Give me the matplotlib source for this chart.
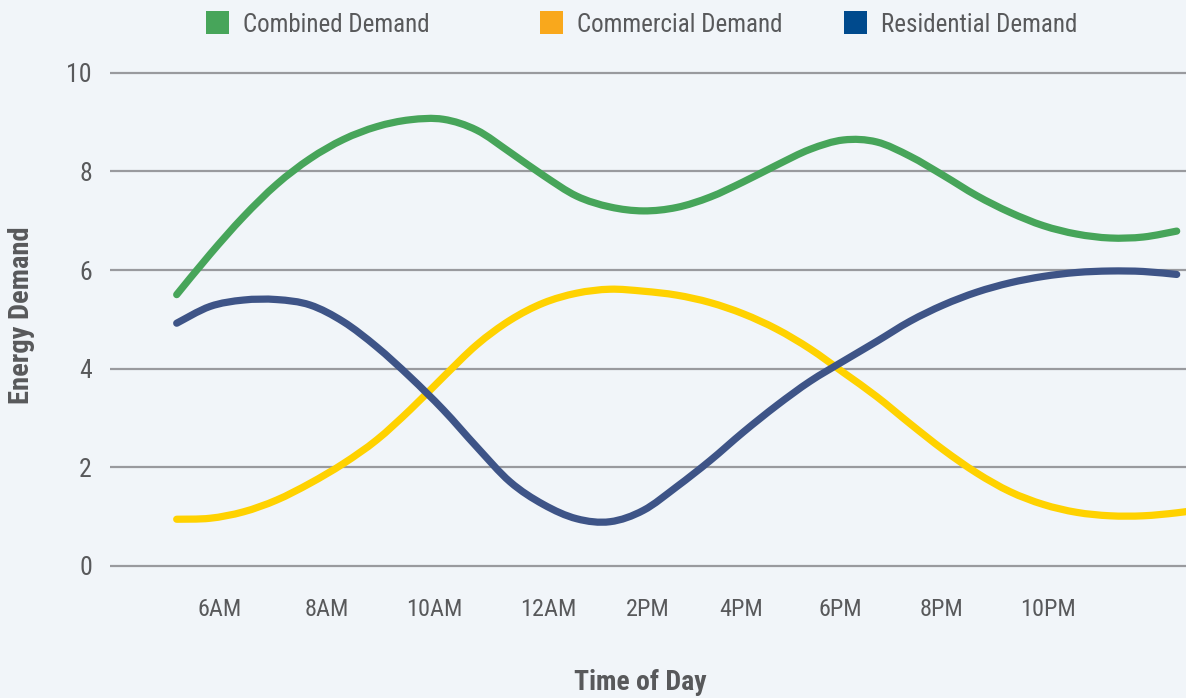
import numpy as np
import matplotlib
matplotlib.use("Agg")
import matplotlib.pyplot as plt
from matplotlib import font_manager
from matplotlib.patches import Rectangle, PathPatch
from matplotlib.path import Path

# pick a narrow sans if there is one
names = {f.name for f in font_manager.fontManager.ttflist}
font = "DejaVu Sans"
for cand in ["Roboto Condensed", "Liberation Sans Narrow", "Roboto"]:
    if cand in names:
        font = cand
        break
plt.rcParams['font.family'] = [font, 'DejaVu Sans']

# data: time in hours, one sample every 40 minutes
time_h = 5 + np.arange(31) * 2 / 3
time_ext = 5 + np.arange(32) * 2 / 3

combined = [5.50, 6.32, 7.08, 7.74, 8.26, 8.65, 8.91, 9.05, 9.06, 8.84,
            8.39, 7.92, 7.50, 7.28, 7.20, 7.27, 7.48, 7.79, 8.13, 8.45,
            8.64, 8.60, 8.31, 7.92, 7.51, 7.17, 6.90, 6.73, 6.65, 6.67, 6.79]
commercial = [0.94, 0.96, 1.09, 1.33, 1.67, 2.07, 2.55, 3.16, 3.83, 4.48,
              4.98, 5.33, 5.53, 5.61, 5.57, 5.49, 5.34, 5.11, 4.80, 4.40,
              3.92, 3.43, 2.88, 2.35, 1.88, 1.50, 1.24, 1.08, 1.01, 1.01,
              1.07, 1.16]
residential = [4.92, 5.26, 5.39, 5.40, 5.29, 4.95, 4.44, 3.83, 3.16, 2.41,
               1.70, 1.24, 0.95, 0.89, 1.12, 1.60, 2.13, 2.71, 3.25, 3.74,
               4.15, 4.55, 4.96, 5.29, 5.55, 5.74, 5.87, 5.95, 5.98, 5.97, 5.91]

tick_labels = ["6AM", "8AM", "10AM", "12AM", "2PM", "4PM", "6PM", "8PM", "10PM"]
tick_pos = [5.85, 8.0, 10.15, 12.43, 14.43, 16.29, 18.27, 20.29, 22.43]
yticks = [0, 2, 4, 6, 8, 10]

legend_names = ["Combined Demand", "Commercial Demand", "Residential Demand"]
legend_colors = ["#47a55a", "#f9a81c", "#004a8d"]

bg = "#f1f5f9"
txt = "#58595b"


def smooth_path(x, y):
    # catmull-rom through the points, drawn as cubic bezier segments
    p = np.column_stack([x, y])
    p = np.vstack([p[0], p, p[-1]])
    verts = [p[1]]
    codes = [Path.MOVETO]
    for i in range(1, len(p) - 2):
        c1 = p[i] + (p[i + 1] - p[i - 1]) / 6
        c2 = p[i + 1] - (p[i + 2] - p[i]) / 6
        verts += [c1, c2, p[i + 1]]
        codes += [Path.CURVE4] * 3
    return Path(verts, codes)


fig = plt.figure(figsize=(11.86, 6.98), dpi=100, facecolor=bg)
ax = fig.add_axes([110 / 1186, 0.1686, 1 - 110 / 1186, 0.748])
ax.set_facecolor(bg)

for y in yticks:
    ax.axhline(y, color="#999a9e", lw=1.6, zorder=1)

for xs, ys, c, z in [(time_h, combined, "#47a55a", 3),
                     (time_ext, commercial, "#ffd200", 3),
                     (time_h, residential, "#3e5487", 4)]:
    ax.add_patch(PathPatch(smooth_path(xs, ys), facecolor="none", edgecolor=c,
                           lw=5.2, capstyle="round", joinstyle="round", zorder=z))

ax.set_xlim(3.666, 25.186)
ax.set_ylim(-0.3, 10.3)
ax.set_yticks(yticks)
ax.set_yticklabels([str(v) for v in yticks])
ax.set_xticks(tick_pos)
ax.set_xticklabels(tick_labels)
ax.tick_params(axis="both", length=0, labelsize=17.5, colors=txt)
ax.tick_params(axis="y", pad=13, labelsize=18.5)
ax.tick_params(axis="x", pad=13)
for s in ax.spines.values():
    s.set_visible(False)

fig.text(640 / 1186, 1 - 683 / 698, "Time of Day", ha="center", va="center",
         fontsize=20, fontweight="bold", color=txt)
fig.text(22 / 1186, 1 - 315 / 698, "Energy Demand", ha="center", va="center",
         rotation=90, fontsize=20.5, fontweight="bold", color=txt)

# legend across the top
sq_x = [206, 540, 844]
for x0, name, c in zip(sq_x, legend_names, legend_colors):
    fig.add_artist(Rectangle((x0 / 1186, 1 - 34 / 698), 23 / 1186, 23 / 698,
                             transform=fig.transFigure, facecolor=c, edgecolor="none"))
    fig.text((x0 + 37) / 1186, 1 - 23 / 698, name, ha="left", va="center_baseline",
             fontsize=18, color=txt)

fig.savefig("out.png", dpi=100, facecolor=bg)
